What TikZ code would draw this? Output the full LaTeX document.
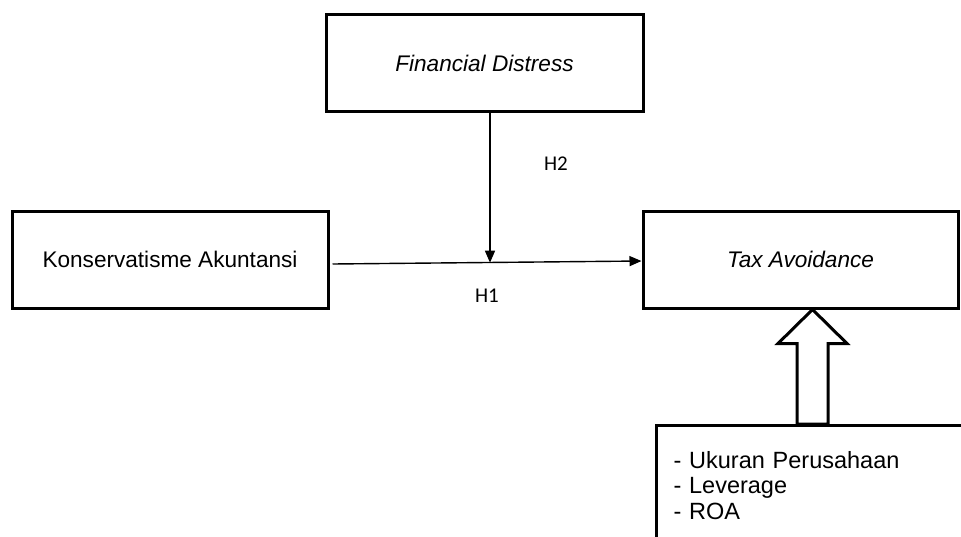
\documentclass[tikz,border=0pt]{standalone}
\usepackage{fontspec}
\setmainfont{Liberation Sans}
\newfontfamily\calfont{Carlito}
\usetikzlibrary{arrows.meta,calc}
\begin{document}
\begin{tikzpicture}[x=1pt,y=-1pt,
  box/.style={draw=black,line width=3pt,inner sep=0pt,minimum height=97pt,
    font=\fontsize{22.6}{26}\selectfont},
  conn/.style={draw=black,line width=1.4pt,-{Triangle[length=12pt,width=10pt]}},
  hlabel/.style={font=\calfont\fontsize{21}{24}\selectfont,inner sep=0pt},
  hollow/.style={draw=black,line width=3pt,fill=white,line join=miter}]
\fill[white] (0,0) rectangle (961,536);
\useasboundingbox (0,0) rectangle (961,536);
\begin{scope}
\clip (0,0) rectangle (961,536);
\node[box,minimum width=317pt] (fd) at (484.5,63) {\itshape Financial Distress};
\node[box,minimum width=316pt] (ka) at (170,259.5) {Konservatisme Akuntansi};
\node[box,minimum width=315pt] (ta) at (800.5,259.5) {\itshape Tax Avoidance};
\node[draw=black,line width=3pt,anchor=north west,text width=280pt,align=left,
  inner xsep=17pt,inner ysep=0pt,minimum height=120pt,
  font=\fontsize{23.5}{25.5}\selectfont] (ctl) at (655,424)
  {- Ukuran Perusahaan\\- Leverage\\- ROA};
% horizontal connector
\coordinate (hs) at ($(ka.east)+(3,4.5)$);
\coordinate (he) at ($(ta.west)+(0,1.5)$);
\draw[conn] (hs) -- (he);
% vertical connector onto the line
\coordinate (j) at (490,262.7);
\draw[conn] (fd.south -| j) -- (j);
\node[hlabel] (h2) at (556,164) {H2};
\node[hlabel] (h1) at (487,296) {H1};
% hollow arrow
\coordinate (tip) at ($(ta.south)+(12,0)$);
\coordinate (base) at (tip |- ctl.north);
\draw[hollow] (tip) -- ++(34.5,34) -- ++(-19,0) -- ($(base)+(15.5,0)$)
  -- ($(base)+(-15.5,0)$) -- ($(tip)+(-15.5,34)$) -- ++(-19,0) -- cycle;
\end{scope}
\end{tikzpicture}
\end{document}
